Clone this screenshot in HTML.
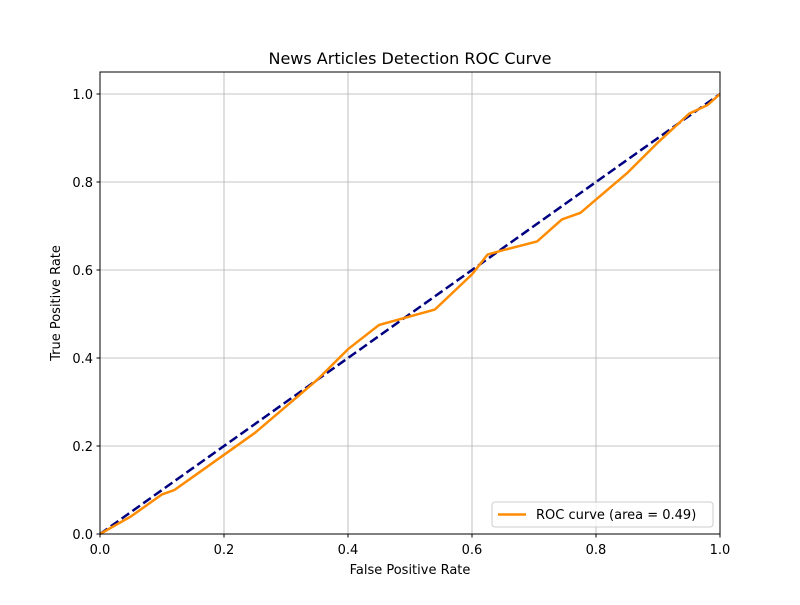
<!DOCTYPE html>
<html><head><meta charset="utf-8"><style>body{margin:0;background:#fff}svg text{font-family:"DejaVu Sans","Liberation Sans",sans-serif}</style></head>
<body>
<svg id="chart" width="800" height="600" xmlns="http://www.w3.org/2000/svg">
<rect width="800" height="600" fill="#fff"/>
<g id="grid"></g>
<g id="marks"></g>
<rect x="100" y="72" width="620" height="462" fill="none" stroke="#000" stroke-width="1"/>
<g id="ticks"></g>
<text x="410" y="64" font-size="16" text-anchor="middle">News Articles Detection ROC Curve</text>
<text x="410" y="574" font-size="13" text-anchor="middle">False Positive Rate</text>
<text x="60" y="303" font-size="13" text-anchor="middle" transform="rotate(-90 60 303)">True Positive Rate</text>
<g>
<rect x="492" y="502" width="221" height="25" rx="3" fill="#fff" fill-opacity="0.8" stroke="#ccc"/>
<line x1="498" y1="514.5" x2="526" y2="514.5" stroke="#ff8c00" stroke-width="2.5"/>
<text x="536" y="519" font-size="13">ROC curve (area = 0.49)</text>
</g>
</svg>
<script>
const fpr=[0,0.05,0.1,0.12,0.15,0.2,0.25,0.3,0.35,0.4,0.45,0.54,0.57,0.6,0.625,0.65,0.705,0.745,0.775,0.8,0.85,0.9,0.95,0.98,1];
const tpr=[0,0.04,0.09,0.1,0.13,0.18,0.23,0.29,0.35,0.42,0.475,0.51,0.55,0.59,0.635,0.645,0.665,0.715,0.73,0.76,0.82,0.89,0.955,0.975,1];
const xTicks=[0,0.2,0.4,0.6,0.8,1.0];
const yTicks=[0,0.2,0.4,0.6,0.8,1.0];
const NS='http://www.w3.org/2000/svg';
const X=v=>100+v*620, Y=v=>534-v*440;
function mk(t,a,p){const e=document.createElementNS(NS,t);for(const k in a)e.setAttribute(k,a[k]);p.appendChild(e);return e;}
const grid=document.getElementById('grid'),ticks=document.getElementById('ticks'),marks=document.getElementById('marks');
xTicks.forEach(v=>{
 const g=mk('line',{x1:X(v),x2:X(v),y1:72,y2:534,stroke:'#b0b0b0','stroke-width':0.8},grid);
 
 
 mk('line',{x1:X(v),x2:X(v),y1:534,y2:537.5,stroke:'#000'},ticks);
 const t=mk('text',{x:X(v),y:554,'font-size':13,'text-anchor':'middle'},ticks);t.textContent=v.toFixed(1);
 
 
});
yTicks.forEach(v=>{
 const g=mk('line',{x1:100,x2:720,y1:Y(v),y2:Y(v),stroke:'#b0b0b0','stroke-width':0.8},grid);
 
 
 mk('line',{x1:96.5,x2:100,y1:Y(v),y2:Y(v),stroke:'#000'},ticks);
 const t=mk('text',{x:93,y:Y(v)+5,'font-size':13,'text-anchor':'end'},ticks);t.textContent=v.toFixed(1);
 
 
});
const d=mk('line',{x1:X(0),y1:Y(0),x2:X(1),y2:Y(1),stroke:'#000080','stroke-width':2.5,'stroke-dasharray':'9.25,4'},marks);


const c=mk('polyline',{points:fpr.map((f,i)=>X(f)+','+Y(tpr[i])).join(' '),fill:'none',stroke:'#ff8c00','stroke-width':2.5,'stroke-linejoin':'round'},marks);


</script>
</body></html>
